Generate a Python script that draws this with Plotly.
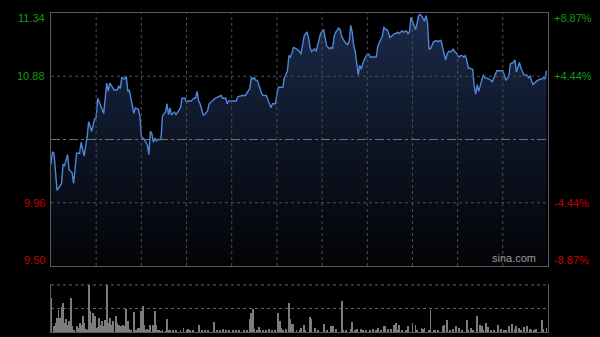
import plotly.graph_objects as go

# ---- data ----
prev_close = 10.42
price_ticks = [11.34, 10.88, 9.96, 9.50]
price_labels = ["11.34", "10.88", "9.96", "9.50"]
pct_labels = ["+8.87%", "+4.44%", "-4.44%", "-8.87%"]
vol_grid = [50, 100]

minutes = [0, 1, 2, 4, 7, 8, 9, 11, 12, 14, 15, 17, 19, 20, 22, 24, 25, 27, 29, 30,
           31, 33, 34, 35, 37, 38, 39, 41, 42, 44, 45, 46, 47, 49, 50, 51, 52, 55, 56, 58,
           59, 60, 62, 64, 65, 66, 67, 68, 69, 70, 71, 73, 74, 76, 77, 78, 79, 80, 82, 83,
           85, 86, 87, 89, 90, 91, 93, 95, 96, 97, 98, 99, 100, 101, 102, 104, 105, 107, 109, 111,
           113, 114, 116, 117, 118, 121, 123, 124, 127, 129, 130, 132, 133, 134, 135, 136, 137, 138, 140, 141,
           143, 144, 146, 147, 149, 150, 151, 153, 154, 155, 157, 158, 159, 160, 161, 163, 165, 166, 167, 168,
           169, 170, 171, 172, 173, 175, 176, 178, 179, 181, 182, 183, 185, 186, 187, 188, 189, 190, 191, 192,
           193, 195, 197, 198, 199, 200, 201, 202, 203, 204, 205, 206, 207, 208, 210, 211, 212, 214, 216, 217,
           219, 220, 221, 222, 223, 224, 225, 226, 227, 228, 229, 230, 231, 232, 233, 234, 236, 237, 238, 239,
           240, 241, 242, 243, 244, 245, 246, 248, 249, 250, 251, 252, 253, 254, 256, 257, 258, 259, 260, 261,
           262, 263, 264, 266, 267, 268, 269, 270, 271, 272, 273, 274, 275, 276, 277, 278, 280, 281, 282, 283,
           284, 286, 287, 288, 290, 291, 293, 294, 296, 298, 300, 301, 302, 304, 305, 307, 308, 309, 310, 311,
           312, 314, 316, 317, 318, 320, 321, 322, 323, 325, 326, 327, 328, 329]

prices = [10.24, 10.33, 10.32, 10.05, 10.10, 10.24, 10.23, 10.31, 10.20, 10.18, 10.10, 10.32, 10.32, 10.40, 10.30, 10.44, 10.55, 10.48, 10.57, 10.58,
          10.72, 10.66, 10.63, 10.61, 10.83, 10.77, 10.83, 10.80, 10.78, 10.78, 10.81, 10.79, 10.87, 10.86, 10.88, 10.77, 10.78, 10.61, 10.65, 10.64,
          10.59, 10.44, 10.42, 10.38, 10.31, 10.48, 10.46, 10.40, 10.43, 10.41, 10.42, 10.42, 10.59, 10.62, 10.68, 10.60, 10.65, 10.60, 10.62, 10.60,
          10.63, 10.65, 10.72, 10.72, 10.69, 10.70, 10.70, 10.72, 10.72, 10.77, 10.70, 10.68, 10.64, 10.60, 10.60, 10.63, 10.68, 10.70, 10.72, 10.73,
          10.74, 10.72, 10.72, 10.68, 10.70, 10.70, 10.70, 10.73, 10.74, 10.74, 10.76, 10.79, 10.87, 10.86, 10.87, 10.85, 10.85, 10.82, 10.75, 10.74,
          10.74, 10.71, 10.65, 10.68, 10.68, 10.75, 10.80, 10.80, 10.80, 10.87, 10.92, 11.03, 11.02, 11.05, 11.09, 11.08, 11.06, 11.04, 11.10, 11.17,
          11.19, 11.20, 11.16, 11.09, 11.06, 11.08, 11.06, 11.14, 11.19, 11.22, 11.15, 11.10, 11.08, 11.09, 11.08, 11.17, 11.20, 11.22, 11.23, 11.22,
          11.17, 11.13, 11.11, 11.13, 11.25, 11.20, 11.10, 11.06, 10.97, 10.89, 10.96, 10.93, 10.97, 11.00, 11.04, 11.04, 11.02, 11.02, 11.02, 11.10,
          11.14, 11.17, 11.24, 11.22, 11.22, 11.20, 11.16, 11.17, 11.18, 11.19, 11.19, 11.20, 11.19, 11.20, 11.21, 11.20, 11.21, 11.19, 11.20, 11.31,
          11.28, 11.26, 11.22, 11.26, 11.32, 11.33, 11.32, 11.28, 11.32, 11.27, 11.08, 11.08, 11.10, 11.13, 11.14, 11.13, 11.14, 11.14, 11.09, 11.03,
          11.00, 11.04, 11.06, 11.06, 11.08, 11.06, 11.05, 11.03, 11.02, 11.03, 11.03, 11.02, 11.03, 11.00, 10.94, 10.94, 10.93, 10.81, 10.75, 10.82,
          10.77, 10.85, 10.89, 10.87, 10.86, 10.86, 10.84, 10.87, 10.92, 10.92, 10.92, 10.89, 10.85, 10.88, 10.97, 10.98, 11.00, 10.91, 10.94, 10.98,
          10.94, 10.89, 10.89, 10.87, 10.88, 10.82, 10.83, 10.84, 10.85, 10.86, 10.86, 10.87, 10.86, 10.92]

vol_minutes = [0, 2, 3, 4, 5, 6, 7, 8, 9, 10, 11, 12, 13, 14, 15, 17, 18, 19, 20, 21,
               22, 23, 24, 25, 26, 27, 28, 29, 30, 31, 32, 33, 34, 35, 36, 37, 38, 39, 40, 41,
               43, 44, 45, 46, 47, 48, 49, 50, 51, 52, 53, 55, 56, 57, 58, 59, 60, 61, 62, 63,
               64, 65, 66, 68, 69, 70, 71, 72, 73, 74, 76, 77, 78, 79, 81, 83, 86, 88, 90, 91,
               92, 94, 98, 100, 102, 104, 108, 110, 112, 114, 116, 118, 121, 123, 125, 128, 130, 132, 133, 134,
               135, 137, 138, 139, 141, 143, 145, 147, 149, 151, 152, 153, 154, 156, 158, 159, 160, 161, 163, 165,
               166, 168, 169, 172, 173, 175, 177, 181, 183, 186, 187, 189, 193, 194, 196, 199, 200, 202, 203, 206,
               207, 209, 212, 214, 216, 217, 219, 221, 222, 224, 226, 228, 229, 230, 231, 233, 236, 237, 240, 242,
               243, 246, 247, 248, 251, 252, 254, 255, 257, 260, 261, 263, 265, 267, 269, 271, 273, 276, 277, 279,
               280, 283, 285, 286, 287, 289, 290, 292, 294, 297, 299, 301, 302, 304, 306, 308, 309, 311, 312, 314,
               316, 318, 319, 321, 322, 326, 327, 329]

volumes = [72, 12, 19, 30, 47, 30, 54, 61, 20, 27, 15, 23, 72, 12, 5, 12, 8, 20, 15, 33,
           19, 6, 5, 100, 44, 19, 40, 33, 8, 11, 30, 15, 23, 12, 26, 100, 19, 30, 15, 23,
           35, 19, 15, 13, 12, 15, 12, 49, 23, 6, 4, 42, 5, 3, 8, 8, 44, 56, 15, 5,
           6, 4, 15, 15, 44, 15, 5, 3, 2, 3, 2, 27, 5, 3, 4, 3, 5, 8, 4, 6,
           5, 3, 15, 4, 3, 4, 21, 4, 3, 6, 5, 3, 3, 4, 3, 3, 5, 27, 40, 49,
           6, 5, 11, 3, 3, 4, 6, 3, 4, 40, 23, 8, 4, 6, 61, 27, 18, 18, 5, 3,
           8, 15, 4, 32, 27, 8, 5, 18, 3, 13, 12, 6, 65, 5, 3, 6, 21, 5, 7, 6,
           5, 4, 3, 6, 4, 8, 5, 13, 12, 6, 6, 15, 19, 5, 15, 5, 3, 13, 19, 15,
           3, 8, 6, 8, 5, 46, 5, 4, 3, 13, 15, 26, 4, 6, 12, 8, 4, 26, 5, 8,
           4, 35, 15, 13, 4, 20, 11, 5, 4, 15, 6, 5, 4, 13, 18, 6, 12, 8, 5, 11,
           12, 6, 5, 4, 6, 25, 6, 8]

# ---- styling ----
FONT = "Liberation Sans, Arial, sans-serif"
GREEN = "#139a13"
RED = "#c40000"
GRID = "#4e4e4e"
BORDER = "#5a5a5a"

fig = go.Figure()

fig.add_trace(go.Scatter(
    x=minutes, y=prices, mode="lines",
    line=dict(color="#4f86dc", width=1.4),
    fill="tozeroy",
    fillgradient=dict(type="vertical", start=9.50, stop=11.34,
                      colorscale=[[0, "#030407"], [0.45, "#0c1322"], [1, "#1c2b4a"]]),
    hoverinfo="skip", showlegend=False, xaxis="x", yaxis="y"))

fig.add_trace(go.Bar(
    x=vol_minutes, y=volumes, width=0.6,
    marker=dict(color="#7c7c7c", line=dict(width=0)),
    hoverinfo="skip", showlegend=False, xaxis="x2", yaxis="y2"))

price_bottom = (332 - 266) / 319
vol_top = (332 - 284) / 319

fig.update_layout(
    width=600, height=337,
    margin=dict(l=51, r=52, t=13, b=5),
    paper_bgcolor="#000000", plot_bgcolor="#000000",
    font=dict(family=FONT, size=11),
    bargap=0,
    xaxis=dict(domain=[0, 1], range=[0, 330], showgrid=False, zeroline=False,
               showticklabels=False, ticks="", showline=True, mirror=True,
               linecolor=BORDER, linewidth=1, anchor="y"),
    yaxis=dict(domain=[price_bottom, 1], range=[9.50, 11.34], showgrid=False,
               zeroline=False, showticklabels=False, ticks="", showline=True,
               mirror=True, linecolor=BORDER, linewidth=1, anchor="x"),
    xaxis2=dict(domain=[0, 1], range=[0, 330], showgrid=False, zeroline=False,
                showticklabels=False, ticks="", showline=True, mirror=False,
                linecolor=BORDER, linewidth=1, anchor="y2"),
    yaxis2=dict(domain=[0, vol_top], range=[0, 102], showgrid=False,
                zeroline=False, showticklabels=False, ticks="", showline=True,
                mirror=True, linecolor=BORDER, linewidth=1, anchor="x2"),
)

shapes = []
# vertical grid every half hour
for m in range(30, 330, 30):
    shapes.append(dict(type="line", xref="x", yref="y", x0=m, x1=m, y0=9.50, y1=11.34,
                       line=dict(color=GRID, width=1, dash="dot"), layer="above"))
for v in [10.88, 9.96]:
    shapes.append(dict(type="line", xref="x", yref="y", x0=0, x1=330, y0=v, y1=v,
                       line=dict(color=GRID, width=1, dash="dot"), layer="above"))
shapes.append(dict(type="line", xref="x", yref="y", x0=0, x1=330, y0=prev_close, y1=prev_close,
                   line=dict(color="#707070", width=1, dash="dashdot"), layer="above"))
for v in vol_grid:
    shapes.append(dict(type="line", xref="x2", yref="y2", x0=0, x1=330, y0=v, y1=v,
                       line=dict(color="#666666", width=1, dash="dot"), layer="below"))
fig.update_layout(shapes=shapes)

ann = []
shifts = [-5, 0, 0, 6]
for v, lab, pl, s in zip(price_ticks, price_labels, pct_labels, shifts):
    col = GREEN if v > prev_close else RED
    ann.append(dict(x=0, xref="paper", xanchor="right", xshift=-4, y=v, yref="y",
                    yanchor="middle", yshift=s, text=lab, showarrow=False,
                    font=dict(color=col, size=11, family=FONT)))
    ann.append(dict(x=1, xref="paper", xanchor="left", xshift=4, y=v, yref="y",
                    yanchor="middle", yshift=s, text=pl, showarrow=False,
                    font=dict(color=col, size=11, family=FONT)))
ann.append(dict(x=330, xref="x", xanchor="right", xshift=-10, y=9.50, yref="y",
                yanchor="bottom", yshift=0, text="sina.com", showarrow=False,
                font=dict(color="#9a9a9a", size=11, family=FONT)))
fig.update_layout(annotations=ann)

fig.write_html("out.html")
